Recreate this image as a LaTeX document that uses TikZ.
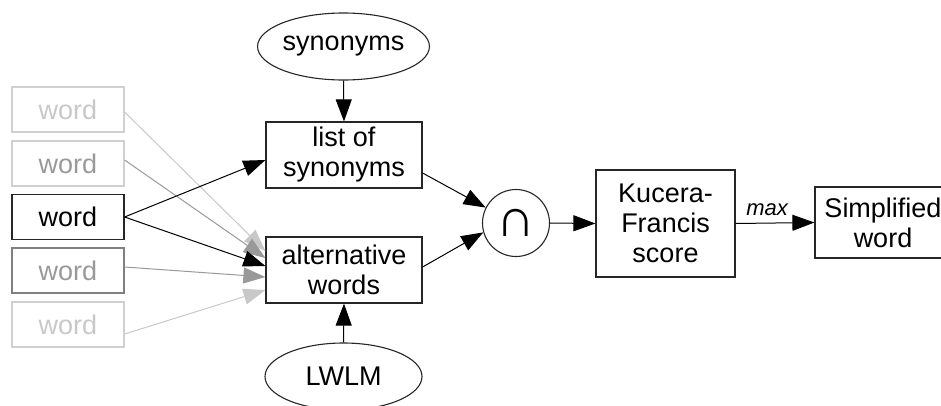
\documentclass[tikz,border=0pt]{standalone}
\usepackage{fontspec}
\setmainfont{Liberation Sans}
\usetikzlibrary{arrows.meta,shapes.geometric}
\definecolor{lightg}{HTML}{C8C8C8}
\definecolor{midg}{HTML}{999999}
\definecolor{edgeg}{HTML}{D0D0D0}
\definecolor{darkedge}{HTML}{808080}
\tikzset{
  txt/.style={font=\fontsize{27}{30}\selectfont, align=center, inner sep=0pt},
  box/.style={txt, draw=black!85, line width=1.2pt, rectangle},
  oval/.style={txt, draw=black!85, line width=1.1pt, ellipse, minimum width=157pt, minimum height=67pt},
  wordbox/.style={box, minimum width=112pt, minimum height=45pt},
  arr/.style={line width=1pt, -{Triangle[length=22pt,width=16pt]}},
}
\begin{document}
\begin{tikzpicture}[x=1pt,y=-1pt]
\useasboundingbox (0,0) rectangle (941,405);
\clip (0,0) rectangle (941,405);
% word boxes
\node[wordbox, draw=edgeg, text=lightg] (w1) at (68,109.5) {word};
\node[wordbox, draw=edgeg, text=midg] (w2) at (68,163.5) {word};
\node[wordbox] (w3) at (68,217) {word};
\node[wordbox, draw=darkedge, text=midg] (w4) at (68,270.5) {word};
\node[wordbox, draw=edgeg, text=lightg] (w5) at (68,324.5) {word};
% middle column
\node[oval] (syn) at (343.5,46.5) {synonyms};
\node[box, minimum width=156pt, minimum height=66pt] (list) at (344,155) {list of\\synonyms};
\node[box, minimum width=156pt, minimum height=66pt] (alt) at (344,270) {alternative\\words};
\node[oval] (lwlm) at (343.5,376.5) {LWLM};
% intersection
\node[draw=black!85, line width=1.1pt, circle, minimum size=67pt, inner sep=0pt] (cap) at (516,223) {};
\node[font=\fontsize{54}{54}\selectfont, inner sep=0pt] (capsym) at (cap.center) {∩};
% right
\node[box, minimum width=139pt, minimum height=107pt] (kf) at (665.5,223.5) {Kucera-\\Francis\\score};
\node[box, minimum width=136pt, minimum height=71pt] (simp) at (883,222.5) {Simplified\\word};
% arrows from word boxes
\draw[arr, lightg] ([yshift=-2.5pt]w1.east) -- ([yshift=19pt]alt.west);
\draw[arr, lightg] ([yshift=-9.5pt]w5.east) -- ([yshift=-20pt]alt.west);
\draw[arr, midg] ([yshift=3.5pt]w2.east) -- ([yshift=12pt]alt.west);
\draw[arr, midg] ([yshift=3.5pt]w4.east) -- ([yshift=-7pt]alt.west);
\draw[arr, black] (w3.east) -- ([yshift=4pt]alt.west);
\draw[arr, black] (w3.east) -- ([yshift=-5pt]list.west);
% vertical
\draw[arr] (syn.south) -- (list.north);
\draw[arr] (lwlm.north) -- (alt.south);
% into intersection
\draw[arr] ([yshift=-18pt]list.east) -- (cap.153);
\draw[arr] ([yshift=3pt]alt.east) -- (cap.196);
\draw[arr] (cap.east) -- (kf.west);
\draw[arr] (kf.east) -- node[pos=0.4, above=7pt, font=\fontsize{22}{26}\selectfont\itshape, inner sep=0pt] (mx) {max} (simp.west);
\end{tikzpicture}
\end{document}
